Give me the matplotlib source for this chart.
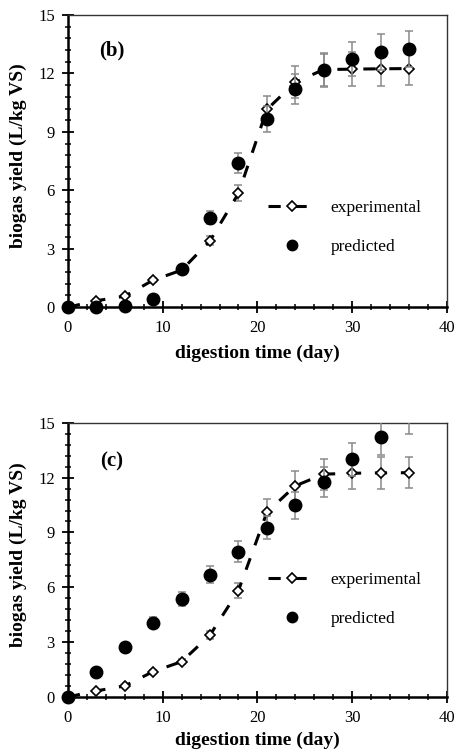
import numpy as np
import matplotlib
matplotlib.use("Agg")
import matplotlib.pyplot as plt
from matplotlib.ticker import MultipleLocator
from matplotlib.lines import Line2D
from matplotlib.transforms import Bbox, TransformedBbox

plt.rcParams["font.family"] = ["Liberation Serif", "DejaVu Serif"]

# -----------------------------
# DATA
# -----------------------------
days = [0, 3, 6, 9, 12, 15, 18, 21, 24, 27, 30, 33, 36]

# panel (b)
exp_b = [0, 0.33, 0.56, 1.39, 1.90, 3.41, 5.84, 10.15, 11.55, 12.20, 12.22, 12.24, 12.25]
exp_b_err = [0, 0.02, 0.04, 0.10, 0.13, 0.24, 0.41, 0.71, 0.81, 0.85, 0.86, 0.86, 0.86]
pred_b = [0, 0.02, 0.05, 0.42, 1.95, 4.60, 7.40, 9.65, 11.20, 12.17, 12.74, 13.08, 13.25]
pred_b_err = [0, 0, 0, 0.03, 0.14, 0.32, 0.52, 0.68, 0.78, 0.85, 0.89, 0.92, 0.93]

# panel (c)
exp_c = [0, 0.33, 0.60, 1.39, 1.93, 3.39, 5.82, 10.10, 11.55, 12.19, 12.24, 12.26, 12.27]
exp_c_err = [0, 0.02, 0.04, 0.10, 0.14, 0.24, 0.41, 0.71, 0.81, 0.85, 0.86, 0.86, 0.86]
pred_c = [0, 1.35, 2.72, 4.07, 5.36, 6.68, 7.95, 9.27, 10.50, 11.75, 13.00, 14.23, 15.50]
pred_c_err = [0, 0.09, 0.19, 0.28, 0.38, 0.47, 0.56, 0.65, 0.74, 0.82, 0.91, 1.00, 1.09]

panels = [
    ("(b)", exp_b, exp_b_err, pred_b, pred_b_err),
    ("(c)", exp_c, exp_c_err, pred_c, pred_c_err),
]

# axes boxes in figure fractions (left, bottom, width, height)
AX_BOXES = [
    [0.149, 0.591, 0.831, 0.389],
    [0.149, 0.072, 0.831, 0.365],
]
LEGEND_Y = [0.272, 0.355]
TAG_Y = [0.88, 0.86]
XLABEL_Y = [-0.13, -0.125]

ERR_COLOR = "#8a8a8a"
DASHES = (4, 4.5)

fig = plt.figure(figsize=(4.56, 7.51), dpi=100)

for i, (tag, exp, exp_err, pred, pred_err) in enumerate(panels):
    ax = fig.add_axes(AX_BOXES[i])

    # let markers spill over left/bottom edges, but clip at the top
    clip = TransformedBbox(Bbox([[-0.05, -0.05], [1.05, 1.0]]), ax.transAxes)

    ax.errorbar(days, exp, yerr=exp_err, fmt="none", ecolor=ERR_COLOR,
                elinewidth=1.1, capsize=3, capthick=1.1, zorder=2)
    (exp_line,) = ax.plot(days, exp, color="black", linewidth=2.2, dashes=DASHES,
                          marker="D", markersize=5.5, markerfacecolor="white",
                          markeredgecolor="black", markeredgewidth=1.2, zorder=3)
    ax.errorbar(days, pred, yerr=pred_err, fmt="none", ecolor=ERR_COLOR,
                elinewidth=1.1, capsize=3, capthick=1.1, zorder=3.5)
    (pred_line,) = ax.plot(days, pred, linestyle="none", marker="o", markersize=9,
                           color="black", zorder=4)
    for ln in (pred_line, exp_line):
        ln.set_clip_box(clip)

    ax.set_xlim(0, 40)
    ax.set_ylim(0, 15)
    ax.xaxis.set_major_locator(MultipleLocator(10))
    ax.xaxis.set_minor_locator(MultipleLocator(2))
    ax.yaxis.set_major_locator(MultipleLocator(3))
    ax.yaxis.set_minor_locator(MultipleLocator(0.6))
    ax.tick_params(which="major", direction="inout", length=9, width=1.3,
                   labelsize=12, pad=5)
    ax.tick_params(which="minor", direction="inout", length=5, width=1.1)
    ax.tick_params(top=False, right=False, which="both")

    for side in ("left", "bottom"):
        ax.spines[side].set_linewidth(1.8)
    for side in ("top", "right"):
        ax.spines[side].set_linewidth(1.0)
        ax.spines[side].set_color("#333333")

    ax.set_xlabel("digestion time (day)", fontsize=14, fontweight="bold")
    ax.set_ylabel("biogas yield (L/kg VS)", fontsize=14, fontweight="bold")
    ax.xaxis.set_label_coords(0.5, XLABEL_Y[i])
    ax.yaxis.set_label_coords(-0.108, 0.52)

    ax.text(0.116, TAG_Y[i], tag, transform=ax.transAxes, fontsize=15,
            fontweight="bold", ha="center", va="center")

    # legend handles (legend circle is drawn a bit smaller, as in the original)
    h_exp = Line2D([], [], color="black", linewidth=2.2, dashes=DASHES,
                   marker="D", markersize=5.5, markerfacecolor="white",
                   markeredgecolor="black", markeredgewidth=1.2)
    h_pred = Line2D([], [], linestyle="none", marker="o", markersize=7.5,
                    color="black")
    ax.legend(handles=[h_exp, h_pred], labels=["experimental", "predicted"],
              loc="center left", bbox_to_anchor=(0.528, LEGEND_Y[i]),
              frameon=False, fontsize=12.5, handlelength=2.8, handletextpad=0.8,
              labelspacing=1.3, borderpad=0, borderaxespad=0, numpoints=1)

fig.savefig("out.png", dpi=100)
